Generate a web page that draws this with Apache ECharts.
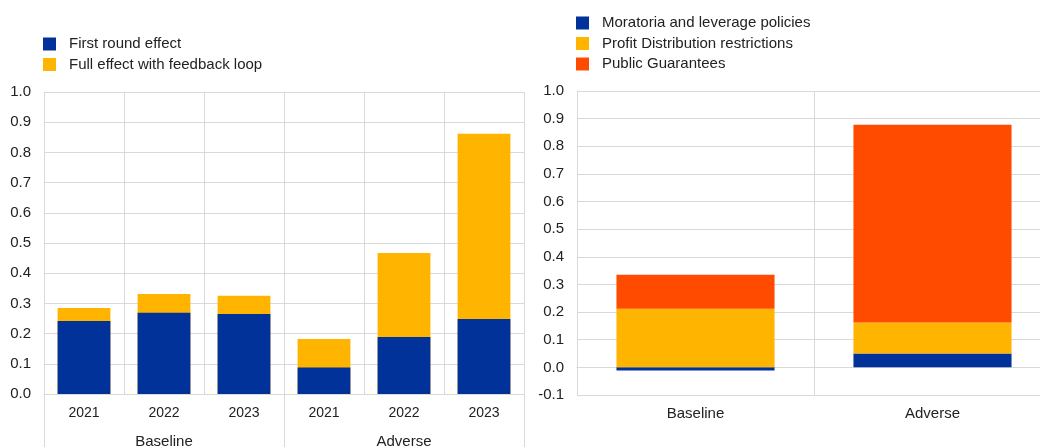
<!DOCTYPE html>
<html>
<head>
<meta charset="utf-8">
<script src="https://cdn.jsdelivr.net/npm/echarts@6/dist/echarts.min.js"></script>
<style>
  html, body { margin: 0; padding: 0; background: #fff; }
  #main { width: 1040px; height: 447px; }
</style>
</head>
<body>
<div id="main"></div>
<script>
// left panel
const years = ["2021", "2022", "2023", "2021", "2022", "2023"];
const scenarios = ["Baseline", "Adverse"];
const firstRound = [0.242, 0.269, 0.265, 0.088, 0.189, 0.248];
const fullEffect = [0.285, 0.331, 0.325, 0.182, 0.467, 0.862];

// right panel
const policyCats = ["Baseline", "Adverse"];
const moratoria = [-0.011, 0.050];
const profitDist = [0.212, 0.112];
const guarantees = [0.123, 0.716];

const yTicksMin = 0.0, yTicksMax = 1.0;

const BLUE = "#003299", YELLOW = "#FFB400", RED = "#FF4B00";
const GRID_COL = "#d9d9d9";
const FONT = "Liberation Sans, Arial, sans-serif";
const txt = { color: "#222", fontSize: 15, fontFamily: FONT };

function valueAxis(gridIndex, min) {
  return {
    type: 'value',
    gridIndex: gridIndex,
    min: min,
    max: yTicksMax,
    interval: 0.1,
    axisLine: { show: true, lineStyle: { color: GRID_COL } },
    axisTick: { show: false },
    splitLine: { show: true, lineStyle: { color: GRID_COL, width: 1 } },
    axisLabel: Object.assign({}, txt, {
      margin: 13,
      formatter: v => v.toFixed(1)
    })
  };
}

const chart = echarts.init(document.getElementById('main'), null, { renderer: 'canvas' });

const option = {
  animation: false,
  legend: [
    {
      left: 43, top: 36.5, padding: 0,
      orient: 'vertical',
      itemWidth: 13, itemHeight: 13, itemGap: 5.5,
      icon: 'rect',
      data: ["First round effect", "Full effect with feedback loop"],
      textStyle: Object.assign({}, txt, { padding: [0, 0, 0, 8] })
    },
    {
      left: 576, top: 15.5, padding: 0,
      orient: 'vertical',
      itemWidth: 13, itemHeight: 13, itemGap: 5.5,
      icon: 'rect',
      data: ["Moratoria and leverage policies", "Profit Distribution restrictions", "Public Guarantees"],
      textStyle: Object.assign({}, txt, { padding: [0, 0, 0, 8] })
    }
  ],
  grid: [
    { left: 44, top: 92, width: 480, height: 302, outerBoundsMode: 'none' },
    // right panel runs past the edge of the picture
    { left: 577, top: 91, width: 474, height: 304, outerBoundsMode: 'none' }
  ],
  xAxis: [
    {
      type: 'category',
      gridIndex: 0,
      data: years,
      axisLine: { show: true, lineStyle: { color: GRID_COL } },
      axisTick: { show: false },
      splitLine: { show: true, interval: 0, lineStyle: { color: GRID_COL } },
      axisLabel: Object.assign({}, txt, { fontSize: 14, margin: 12, interval: 0 })
    },
    {
      type: 'category',
      gridIndex: 0,
      position: 'bottom',
      data: scenarios,
      axisLine: { show: false },
      axisTick: { show: true, interval: 0, length: 60, lineStyle: { color: GRID_COL } },
      splitLine: { show: false },
      axisLabel: Object.assign({}, txt, { margin: 40, interval: 0 })
    },
    {
      type: 'category',
      gridIndex: 1,
      data: policyCats,
      axisLine: { show: true, lineStyle: { color: GRID_COL } },
      axisTick: { show: false },
      splitLine: { show: true, interval: 0, lineStyle: { color: GRID_COL } },
      axisLabel: Object.assign({}, txt, { margin: 11, interval: 0 })
    }
  ],
  yAxis: [
    valueAxis(0, yTicksMin),
    valueAxis(1, -0.1)
  ],
  series: [
    // full effect drawn behind, first round in front
    {
      name: "Full effect with feedback loop",
      type: 'bar',
      xAxisIndex: 0, yAxisIndex: 0,
      data: fullEffect,
      barWidth: '66%',
      barGap: '-100%',
      itemStyle: { color: YELLOW }
    },
    {
      name: "First round effect",
      type: 'bar',
      xAxisIndex: 0, yAxisIndex: 0,
      data: firstRound,
      barWidth: '66%',
      barGap: '-100%',
      itemStyle: { color: BLUE }
    },
    {
      name: "Moratoria and leverage policies",
      type: 'bar',
      xAxisIndex: 2, yAxisIndex: 1,
      stack: 'pol',
      data: moratoria,
      barWidth: '66.7%',
      itemStyle: { color: BLUE }
    },
    {
      name: "Profit Distribution restrictions",
      type: 'bar',
      xAxisIndex: 2, yAxisIndex: 1,
      stack: 'pol',
      data: profitDist,
      barWidth: '66.7%',
      itemStyle: { color: YELLOW }
    },
    {
      name: "Public Guarantees",
      type: 'bar',
      xAxisIndex: 2, yAxisIndex: 1,
      stack: 'pol',
      data: guarantees,
      barWidth: '66.7%',
      itemStyle: { color: RED }
    }
  ]
};

chart.setOption(option);
window.addEventListener('resize', () => { chart.resize(); });
</script>
</body>
</html>
